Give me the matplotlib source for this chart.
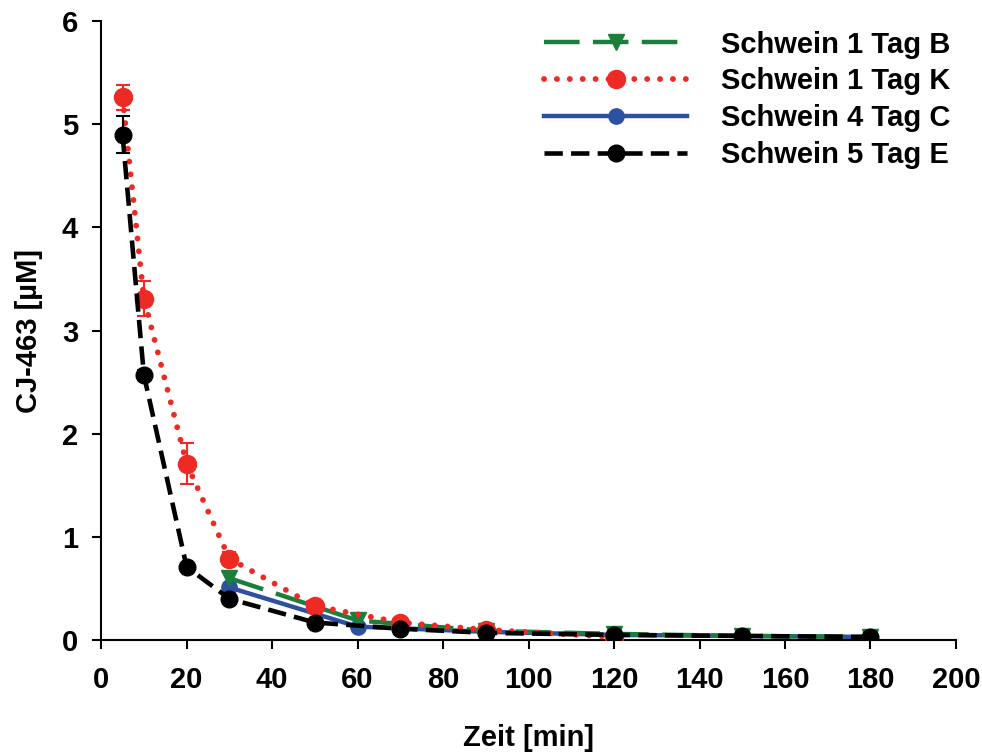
import numpy as np
import matplotlib
matplotlib.use('Agg')
from matplotlib import pyplot as plt

plt.rcParams['font.family'] = ['Liberation Sans', 'DejaVu Sans']
plt.rcParams['font.weight'] = 'bold'

# Schwein 1 Tag B
t_b = [30, 60, 90, 120, 150, 180]
c_b = [0.60, 0.19, 0.09, 0.06, 0.04, 0.03]

# Schwein 1 Tag K
t_k = [5, 10, 20, 30, 50, 70, 90, 120]
c_k = [5.26, 3.31, 1.71, 0.79, 0.33, 0.17, 0.10, 0.03]
e_k = [0.12, 0.17, 0.20, 0.06, 0.03, 0.02, 0.02, 0.02]

# Schwein 4 Tag C
t_c = [30, 60, 90, 120, 150, 180]
c_c = [0.51, 0.13, 0.08, 0.05, 0.04, 0.03]

# Schwein 5 Tag E
t_e = [5, 10, 20, 30, 50, 70, 90, 120, 150, 180]
c_e = [4.90, 2.57, 0.71, 0.40, 0.17, 0.11, 0.07, 0.05, 0.04, 0.03]
e_e = [0.18, 0.05, 0.02, 0.02, 0.02, 0.01, 0.01, 0.01, 0.01, 0.01]

labels = ['Schwein 1 Tag B', 'Schwein 1 Tag K', 'Schwein 4 Tag C', 'Schwein 5 Tag E']

fig = plt.figure(figsize=(9.82, 7.53), dpi=100)
ax = fig.add_axes([0.103, 0.150, 0.8705, 0.822])

green = '#1b7f3b'
red = '#ee2a24'
blue = '#2e50a3'
fs = 21

l_c, = ax.plot(t_c, c_c, color=blue, lw=3.2, marker='o', ms=11, zorder=2)
l_b, = ax.plot(t_b, c_b, color=green, lw=3.2, marker='v', ms=11, zorder=3,
               dashes=(8, 3))
ax.errorbar(t_k, c_k, yerr=e_k, fmt='none', ecolor=red, elinewidth=1.5,
            capsize=5, capthick=1.5, zorder=4)
l_k, = ax.plot(t_k, c_k, color=red, lw=4.2, marker='o', ms=13, zorder=4,
               dashes=(0.01, 2.2), dash_capstyle='round')
ax.errorbar(t_e, c_e, yerr=e_e, fmt='none', ecolor='black', elinewidth=1.5,
            capsize=5, capthick=1.5, zorder=5)
l_e, = ax.plot(t_e, c_e, color='black', lw=3.3, marker='o', ms=12, zorder=5,
               dashes=(4, 1.8))

ax.set_xlim(0, 200)
ax.set_ylim(0, 6)
ax.set_xticks(np.arange(0, 201, 20))
ax.set_yticks(np.arange(0, 7, 1))
ax.spines['top'].set_visible(False)
ax.spines['right'].set_visible(False)
for s in ['left', 'bottom']:
    ax.spines[s].set_linewidth(1.5)
ax.tick_params(direction='out', length=6.5, width=1.5, labelsize=fs)
ax.tick_params(axis='x', pad=12)
ax.tick_params(axis='y', pad=10)
for lab in ax.get_xticklabels() + ax.get_yticklabels():
    lab.set_fontweight('bold')

ax.set_xlabel('Zeit [min]', fontsize=fs, fontweight='bold', labelpad=22)
ax.set_ylabel('CJ-463 [µM]', fontsize=fs, fontweight='bold', labelpad=14)

ax.legend([l_b, l_k, l_c, l_e], labels, loc='upper right', frameon=False,
          numpoints=1, handlelength=4.9, handletextpad=1.15, labelspacing=0.3,
          prop={'size': fs, 'weight': 'bold'}, bbox_to_anchor=(1.024, 1.027))

plt.savefig('out.png', dpi=100)
